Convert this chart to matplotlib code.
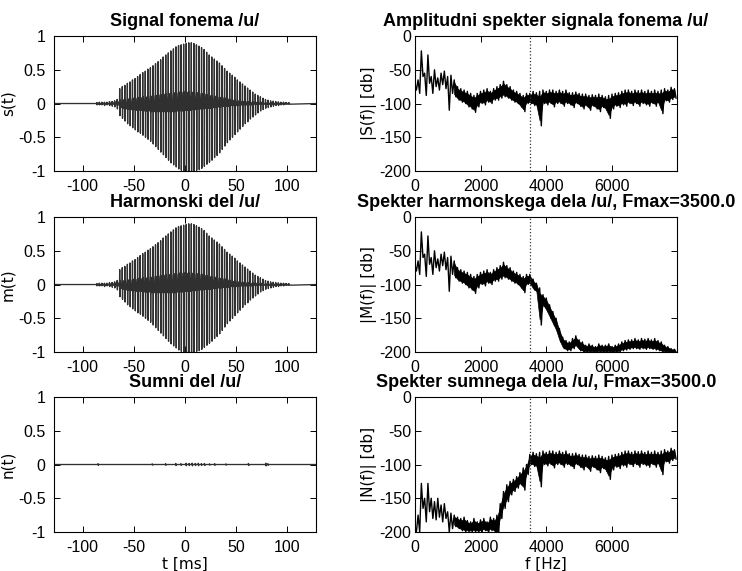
import numpy as np
import matplotlib
matplotlib.use("Agg")
import matplotlib.pyplot as plt

# --- time signal: one fast up/down spike every 2.5 ms
SPIKE_START = -86.5   # ms
SPIKE_STEP = 2.5      # ms
spike_up = [0.01, 0.02, 0.02, 0.02, 0.02, 0.03, 0.03, 0.04, 0.06,
            0.22, 0.25, 0.27, 0.30, 0.32, 0.35, 0.37, 0.40, 0.43, 0.46,
            0.48, 0.51, 0.53, 0.56, 0.59, 0.62, 0.65, 0.69, 0.72, 0.75,
            0.78, 0.81, 0.84, 0.86, 0.87, 0.88, 0.89, 0.90, 0.90, 0.89,
            0.87, 0.85, 0.83, 0.80, 0.76, 0.72, 0.69, 0.66, 0.63, 0.60,
            0.56, 0.52, 0.48, 0.45, 0.42, 0.39, 0.35, 0.32, 0.29, 0.26,
            0.23, 0.20, 0.17, 0.14, 0.12, 0.10, 0.08, 0.06, 0.05, 0.04,
            0.035, 0.03, 0.025, 0.02, 0.02, 0.015, 0.01]
spike_lo = [-0.02, -0.02, -0.02, -0.03, -0.02, -0.03, -0.04, -0.05, -0.08,
            -0.18, -0.22, -0.26, -0.30, -0.33, -0.36, -0.39, -0.42, -0.44, -0.47,
            -0.50, -0.53, -0.56, -0.60, -0.64, -0.68, -0.72, -0.76, -0.80, -0.84,
            -0.88, -0.91, -0.94, -0.97, -0.99, -1.0, -1.0, -1.0, -1.0, -1.0,
            -0.99, -0.98, -0.96, -0.93, -0.90, -0.87, -0.84, -0.80, -0.77, -0.73,
            -0.68, -0.63, -0.58, -0.54, -0.50, -0.46, -0.42, -0.38, -0.34, -0.30,
            -0.27, -0.23, -0.20, -0.17, -0.14, -0.11, -0.09, -0.07, -0.06, -0.05,
            -0.04, -0.03, -0.03, -0.02, -0.02, -0.01, -0.01]
# small secondary swing between the spikes: upper / lower value
ripple_hi = [0.01, 0.01, 0.01, 0.01, 0.01, 0.01, 0.02, 0.02, 0.03,
             0.05, 0.06, 0.06, 0.07, 0.07, 0.08, 0.08, 0.09, 0.09, 0.10,
             0.10, 0.11, 0.11, 0.12, 0.12, 0.13, 0.13, 0.14, 0.14, 0.15,
             0.15, 0.16, 0.16, 0.17, 0.17, 0.17, 0.17, 0.17, 0.17, 0.16,
             0.16, 0.15, 0.15, 0.14, 0.13, 0.12, 0.11, 0.11, 0.10, 0.09,
             0.09, 0.08, 0.07, 0.06, 0.05, 0.05, 0.04, 0.04, 0.03, 0.03,
             0.03, 0.02, 0.02, 0.02, 0.02, 0.02, 0.01, 0.01, 0.01, 0.01,
             0.01, 0.01, 0.01, 0.01, 0.01, 0.01, 0.01]
ripple_lo = [-0.01, -0.01, -0.01, -0.01, -0.01, -0.01, -0.01, -0.02, -0.02,
             -0.06, -0.07, -0.08, -0.08, -0.09, -0.09, -0.10, -0.10, -0.10, -0.11,
             -0.11, -0.11, -0.12, -0.12, -0.12, -0.12, -0.12, -0.12, -0.12, -0.12,
             -0.12, -0.12, -0.11, -0.11, -0.11, -0.10, -0.10, -0.10, -0.09, -0.09,
             -0.08, -0.08, -0.08, -0.07, -0.07, -0.07, -0.06, -0.06, -0.05, -0.05,
             -0.04, -0.04, -0.04, -0.03, -0.03, -0.03, -0.02, -0.02, -0.02, -0.02,
             -0.02, -0.02, -0.01, -0.01, -0.01, -0.01, -0.01, -0.01, -0.01, -0.01,
             -0.01, -0.01, -0.01, -0.01, -0.01, -0.01, -0.01]

# noise part: tiny blips (ms, amplitude)
blip_t = [-85, -32, -19, -9, -4, 1, 4, 7, 10, 13, 16, 19, 24, 29, 40, 62, 79, 81]
blip_a = [0.012, 0.01, 0.012, 0.015, 0.012, 0.018, 0.015, 0.02, 0.015,
          0.018, 0.012, 0.015, 0.01, 0.012, 0.01, 0.015, 0.02, 0.012]

# --- spectra, 100 Hz grid, upper / lower edge of the dense trace [dB]
S_hi = [-70, -65, -22, -55, -28, -60, -50, -62, -55, -52,
        -60, -58, -65, -75, -78, -80, -82, -85, -88, -85,
        -82, -80, -78, -82, -78, -75, -72, -67, -72, -75,
        -80, -82, -85, -88, -85, -85, -82, -84, -82, -80,
        -82, -80, -80, -82, -80, -82, -80, -84, -84, -83,
        -85, -86, -86, -88, -87, -88, -86, -88, -90, -88,
        -86, -85, -84, -82, -80, -80, -82, -80, -81, -80,
        -82, -80, -82, -80, -82, -80, -78, -80, -76, -78]
S_lo = [-80, -85, -60, -88, -70, -85, -75, -80, -72, -78,
        -110, -85, -90, -95, -98, -100, -105, -108, -113, -105,
        -100, -102, -98, -100, -95, -95, -92, -90, -92, -95,
        -98, -100, -105, -112, -100, -100, -103, -105, -133, -100,
        -102, -100, -105, -100, -100, -104, -100, -102, -106, -100,
        -104, -108, -104, -110, -104, -108, -112, -106, -110, -122,
        -108, -104, -106, -102, -104, -100, -103, -100, -104, -100,
        -102, -104, -100, -104, -100, -115, -96, -98, -94, -92]
# harmonic part above 3500 Hz
MH_hi = [-85, -92, -98, -105, -115, -120, -130, -140, -150, -165,
         -178, -183, -185, -180, -176, -182, -185, -190, -188, -190,
         -192, -188, -190, -190, -188, -192, -190, -188, -185, -183,
         -182, -182, -180, -182, -180, -181, -180, -182, -180, -183,
         -185, -190, -192, -195, -196]
MH_lo = [-100, -108, -112, -160, -132, -140, -150, -160, -170, -185,
         -195, -198, -198, -195, -192, -198, -200, -200, -200, -200,
         -200, -200, -200, -200, -200, -200, -200, -200, -198, -197,
         -196, -195, -195, -196, -195, -196, -195, -196, -197, -198,
         -200, -200, -200, -200, -200]
# noise part below 3500 Hz
NL_hi = [-190, -175, -128, -150, -128, -150, -155, -150, -160, -158,
         -170, -172, -175, -178, -180, -178, -183, -185, -180, -185,
         -182, -180, -185, -178, -180, -175, -158, -140, -130, -125,
         -122, -118, -112, -105, -100]
NL_lo = [-200, -200, -165, -185, -170, -180, -182, -178, -185, -180,
         -200, -195, -192, -195, -198, -200, -200, -200, -200, -200,
         -200, -198, -200, -198, -200, -205, -180, -165, -155, -145,
         -140, -135, -130, -138, -115]

FMAX = 3500.0
BAND_FROM = 1200.0   # below this the spectrum is a thin line with harmonic peaks
BAND_CORE = 0.15     # part of the band edge left as bare zigzag teeth

row_titles_left = ['Signal fonema /u/', 'Harmonski del /u/', 'Sumni del /u/']
row_titles_right = ['Amplitudni spekter signala fonema /u/',
                    'Spekter harmonskega dela /u/, Fmax=%.1f' % FMAX,
                    'Spekter sumnega dela /u/, Fmax=%.1f' % FMAX]
ylabels_left = ['s(t)', 'm(t)', 'n(t)']
ylabels_right = ['|S(f)| [db]', '|M(f)| [db]', '|N(f)| [db]']


def time_trace(up, lo, rhi, rlo):
    t0 = SPIKE_START + SPIKE_STEP * np.arange(len(up))
    xs, ys = [-128.0], [0.0]
    for t, u, l, a, b in zip(t0, up, lo, rhi, rlo):
        xs += [t, t + 0.2, t + 0.45, t + 0.75, t + 1.6]
        ys += [0.0, u, l, a, b]
    xs.append(128.0)
    ys.append(0.0)
    return np.array(xs), np.array(ys)


def blip_trace(bt, ba):
    xs, ys = [-128.0], [0.0]
    for t, a in zip(bt, ba):
        xs += [t - 0.3, t, t + 0.3, t + 0.6]
        ys += [0.0, a, -a, 0.0]
    xs.append(128.0)
    ys.append(0.0)
    return np.array(xs), np.array(ys)


def spec_trace(hi, lo):
    f = 100.0 * np.arange(len(hi))
    xs = np.column_stack([f, f + 50]).ravel()
    ys = np.column_stack([hi, lo]).ravel()
    return f, xs, ys


def style(ax, ypad):
    ax.tick_params(direction='in', top=True, right=True, length=4.5,
                   width=0.7, labelsize=11.5)
    ax.tick_params(axis='x', pad=6)
    ax.tick_params(axis='y', pad=ypad)
    for s in ax.spines.values():
        s.set_linewidth(0.8)
    for lab in ax.get_xticklabels() + ax.get_yticklabels():
        lab.set_family('Liberation Sans')


traces_t = [time_trace(spike_up, spike_lo, ripple_hi, ripple_lo),
            time_trace(spike_up, spike_lo, ripple_hi, ripple_lo),
            blip_trace(blip_t, blip_a)]
M_hi = S_hi[:35] + MH_hi
M_lo = S_lo[:35] + MH_lo
N_hi = NL_hi + S_hi[35:]
N_lo = NL_lo + S_lo[35:]
spectra = [(S_hi, S_lo), (M_hi, M_lo), (N_hi, N_lo)]

fig = plt.figure(figsize=(7.42, 5.71), dpi=100)
bottoms = [0.7005, 0.3835, 0.0683]
for i in range(3):
    axl = fig.add_axes([0.0728, bottoms[i], 0.353, 0.2364])
    x, y = traces_t[i]
    axl.plot(x, y, color='#303030', lw=0.95)
    axl.set_xlim(-128, 128)
    axl.set_ylim(-1, 1)
    axl.set_xticks([-100, -50, 0, 50, 100])
    axl.set_yticks([-1, -0.5, 0, 0.5, 1])
    axl.set_yticklabels(['-1', '-0.5', '0', '0.5', '1'])
    axl.set_xticklabels(['-100', '-50', '0', '50', '100'])
    axl.set_title(row_titles_left[i], fontsize=13, fontweight='bold',
                  family='Liberation Sans', pad=7)
    axl.set_ylabel(ylabels_left[i], fontsize=11, family='DejaVu Sans')
    axl.yaxis.set_label_coords(-0.148, 0.5)
    style(axl, 6)

    axr = fig.add_axes([0.559, bottoms[i], 0.353, 0.2364])
    hi, lo = spectra[i]
    f, x, y = spec_trace(hi, lo)
    hi_a, lo_a = np.array(hi, float), np.array(lo, float)
    band = f >= BAND_FROM
    width = hi_a - lo_a
    axr.fill_between(f[band], (hi_a - BAND_CORE * width)[band],
                     (lo_a + BAND_CORE * width)[band], color='black', lw=0.5)
    axr.plot(x, y, color='black', lw=1.0)
    axr.axvline(FMAX, color='#333333', ls=':', lw=0.9)
    axr.set_xlim(0, 7970)
    axr.set_ylim(-200, 0)
    axr.set_xticks([0, 2000, 4000, 6000])
    axr.set_yticks([-200, -150, -100, -50, 0])
    axr.set_xticklabels(['0', '2000', '4000', '6000'])
    axr.set_yticklabels(['-200', '-150', '-100', '-50', '0'])
    axr.set_title(row_titles_right[i], fontsize=13, fontweight='bold',
                  family='Liberation Sans', pad=7)
    axr.set_ylabel(ylabels_right[i], fontsize=11, family='DejaVu Sans')
    axr.yaxis.set_label_coords(-0.145, 0.5)
    style(axr, 2.5)
    if i == 2:
        axl.set_xlabel('t [ms]', fontsize=11, family='DejaVu Sans', labelpad=1)
        axr.set_xlabel('f [Hz]', fontsize=11, family='DejaVu Sans', labelpad=1)

fig.savefig('out.png', dpi=100)
